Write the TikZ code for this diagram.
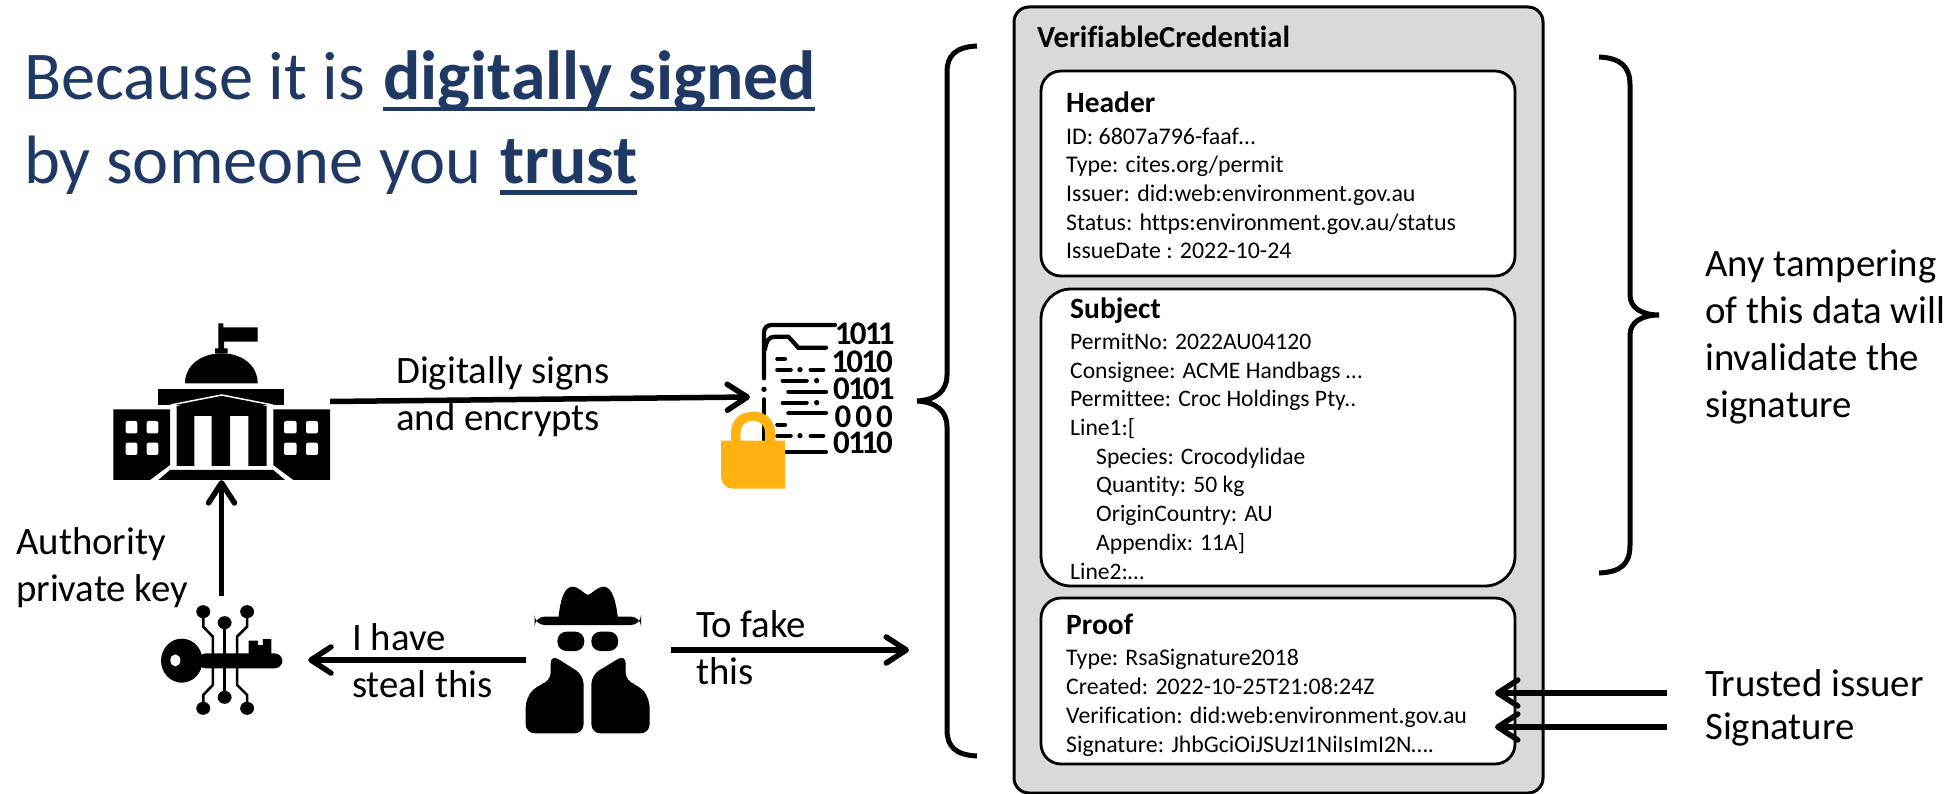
\documentclass[tikz,border=0pt]{standalone}
\usepackage{fontspec}
\setmainfont{Carlito}[Ligatures=CommonOff]
\usetikzlibrary{arrows.meta}
\definecolor{titleblue}{HTML}{1F3864}
\definecolor{cardgrey}{HTML}{D9D9D9}
\definecolor{lockgold}{HTML}{FFB210}
\newcommand{\tightone}{\kern-1.8pt 1\kern-1.8pt}
\tikzset{
  lab/.style={anchor=base west,inner sep=0pt,align=left,font=\fontsize{38.8}{47}\selectfont},
  titletext/.style={anchor=base west,inner sep=0pt,text=titleblue,font=\fontsize{68.4}{84}\selectfont},
  titlebold/.style={titletext,font=\fontsize{69.6}{84}\selectfont\bfseries},
  boxhead/.style={anchor=base west,inner sep=0pt,font=\fontsize{29.5}{34}\selectfont\bfseries},
  boxbody/.style={anchor=base west,inner sep=0pt,align=left,font=\fontsize{23.6}{28.7}\selectfont},
  headbody/.style={boxbody,font=\fontsize{23.9}{28.7}\selectfont},
  proofbody/.style={boxbody,font=\fontsize{23.8}{28.7}\selectfont},
  card/.style={draw=black,line width=2.8pt,fill=white},
  bigarrow/.style={line width=5.5pt,-{Straight Barb[length=20pt,width=26pt,round]}},
  bracepath/.style={line width=5pt,line cap=butt},
  docline/.style={line width=4.2pt,line cap=round},
  iconbox/.style={inner sep=0pt,minimum width=#1},
  bits/.style={anchor=base east,inner sep=0pt,font=\fontsize{33}{32}\selectfont\bfseries}
}
\begin{document}
\begin{tikzpicture}[x=1pt,y=-1pt]
\useasboundingbox (0,0) rectangle (1959,794);

% title
\node[titletext] (t1) at (24,100) {Because it is};
\node[titlebold] (t2) at (383,100) {digitally signed};
\node[titletext] (t3) at (24,184) {by someone you};
\node[titlebold] (t4) at (500,184) {trust};
\fill[titleblue] (383,107) rectangle (815,111.5);
\fill[titleblue] (500,190) rectangle (637,195);

% credential card
\draw[draw=black,line width=3pt,fill=cardgrey,rounded corners=15pt] (1014,7) rectangle (1543,793);
\node[boxhead,font=\fontsize{30.6}{34}\selectfont\bfseries] (vc) at (1037,48) {VerifiableCredential};

\draw[card,rounded corners=20pt] (1041,71) rectangle (1515,276);
\node[boxhead] (hh) at (1066,113) {Header};
\node[headbody] (hb) at (1066,259) {ID: 6807a796-faaf…\\Type: cites.org/permit\\Issuer: did:web:environment.gov.au\\Status: https:environment.gov.au/status\\IssueDate : 2022-10-24};

\draw[card,rounded corners=30pt] (1041,289) rectangle (1515,586);
\node[boxhead] (sh) at (1070,319) {Subject};
\node[boxbody] (sb) at (1070,579) {PermitNo: 2022AU04120\\Consignee: ACME Handbags …\\Permittee: Croc Holdings Pty..\\Line1:[\\\hspace*{26pt}Species: Crocodylidae\\\hspace*{26pt}Quantity: 50 kg\\\hspace*{26pt}OriginCountry: AU\\\hspace*{26pt}Appendix: 11A]\\Line2:…};

\draw[card,rounded corners=20pt] (1041,598) rectangle (1515,764);
\node[boxhead] (ph) at (1066,634) {Proof};
\node[proofbody] (pb) at (1066,752) {Type: RsaSignature2018\\Created: 2022-10-25T21:08:24Z\\Verification: did:web:environment.gov.au\\Signature: JhbGciOiJSUzI1NiIsImI2N….};

% braces
\draw[bracepath] (977,46) .. controls (955,47) and (947,56) .. (947,72) -- (947,375) .. controls (947,392) and (935,400) .. (917,401) .. controls (935,402) and (947,410) .. (947,427) -- (947,730) .. controls (947,746) and (955,755) .. (977,756);
\draw[bracepath] (1599,57) .. controls (1620,58) and (1630,66) .. (1630,85) -- (1630,295) .. controls (1630,308) and (1642,315) .. (1659,315) .. controls (1642,315) and (1630,322) .. (1630,335) -- (1630,545) .. controls (1630,565) and (1620,572) .. (1599,573);

% right labels
\node[lab] (tamper) at (1705,417) {Any tampering\\of this data will\\invalidate the\\signature};
\node[lab,font=\fontsize{38.8}{42.5}\selectfont] (trusted) at (1705,739) {Trusted issuer\\Signature};

% building icon
\node[iconbox=217pt,minimum height=157pt] (building) at (221.5,401.5) {};
\begin{scope}[shift={(80,290)},x=1/3*1pt,y=-1/3*1pt]
  \fill (100,358) -- (270,358) -- (270,525) -- (210,570) -- (100,570) -- cycle;
  \fill (750,358) -- (580,358) -- (580,525) -- (640,570) -- (750,570) -- cycle;
  \fill (235,297) rectangle (612,345);
  \fill (235,570) -- (270,540) -- (580,540) -- (615,570) -- cycle;
  \fill (315,280) .. controls (315,225) and (365,190) .. (425,190) .. controls (485,190) and (533,225) .. (533,280) -- cycle;
  \fill (405,190) -- (405,175) -- (415,175) -- (415,100) -- (430,100) -- (430,112) -- (533,112) -- (533,155) -- (432,155) -- (432,175) -- (443,175) -- (443,190) -- cycle;
  \fill (290,348) -- (425,322) -- (560,348) -- (560,528) -- (505,528) -- (505,378) -- (450,378) -- (450,528) -- (395,528) -- (395,378) -- (343,378) -- (343,528) -- (290,528) -- cycle;
  \draw[white,line width=1.5pt] (272,345) -- (425,315) -- (578,345);
  \fill[white,rounded corners=2pt] (137,393) rectangle (172,430) (200,393) rectangle (235,430) (137,458) rectangle (172,495) (200,458) rectangle (235,495);
  \fill[white,rounded corners=2pt] (612,393) rectangle (650,430) (678,393) rectangle (714,430) (612,458) rectangle (650,495) (678,458) rectangle (714,495);
\end{scope}

% document icon
\coordinate (docin) at (750,397);
\begin{scope}[shift={(700,300)},x=1/3*1pt,y=-1/3*1pt]
  \draw[docline] (405,75) -- (215,75) .. controls (200,75) and (192,85) .. (192,98) -- (192,235);
  \fill (192,268) circle[radius=8];
  \draw[docline] (192,298) -- (192,420);
  \draw[docline] (195,148) .. controls (198,125) and (205,110) .. (225,110) -- (265,110) -- (295,143) -- (378,143);
  \foreach \a/\b/\c in {232/255/177,232/272/209,332/370/209,248/320/242,265/378/275,248/320/308,265/378/340,232/255/374,232/272/407,332/370/407,255/378/455}
    \draw[docline] (\a,\c) -- (\b,\c);
  \foreach \a/\c in {300/209,350/242,350/308,300/407}
    \fill (\a,\c) circle[radius=8];
\end{scope}
\node[bits] (b1) at (893,344) {\tightone0\tightone\tightone};
\node[bits] (b2) at (893,372) {\tightone0\tightone0};
\node[bits] (b3) at (893,399) {0\tightone0\tightone};
\node[bits] (b4) at (893,427) {0\kern4pt0\kern4pt0};
\node[bits] (b5) at (893,453) {0\tightone\tightone0};
% lock
\begin{scope}[shift={(700,300)},x=1/3*1pt,y=-1/3*1pt]
  \fill[lockgold,even odd rule] (93,425) -- (93,400) .. controls (93,360) and (120,335) .. (159,335) .. controls (198,335) and (225,360) .. (225,400) -- (225,425) -- (195,425) -- (195,398) .. controls (195,375) and (180,362) .. (159,362) .. controls (138,362) and (122,375) .. (122,398) -- (122,425) -- cycle;
  \fill[lockgold] (63,422) -- (255,422) -- (255,566) -- (100,566) .. controls (78,566) and (63,550) .. (63,530) -- cycle;
\end{scope}

% key icon
\node[iconbox=121pt,minimum height=111pt] (key) at (221.5,660) {};
\begin{scope}[shift={(130,570)},x=1/2.8*1pt,y=-1/3*1pt]
  \draw[line width=2.6pt] (265,158) -- (265,382);
  \draw[line width=2.6pt] (205,125) -- (205,170) -- (232,200) -- (232,345) -- (205,375) -- (205,415);
  \draw[line width=2.6pt] (328,125) -- (328,170) -- (300,200) -- (300,345) -- (328,375) -- (328,415);
  \foreach \a/\c in {205/125,265/158,328/125,205/415,265/382,328/415}
    \fill (\a,\c) ellipse[x radius=19.5,y radius=19.5];
  \fill (145,272) ellipse[x radius=58,y radius=66];
  \fill[rounded corners=8pt] (190,250) rectangle (427,295);
  \fill (332,252) -- (332,212) -- (358,212) -- (358,225) -- (372,225) -- (372,207) -- (396,207) -- (396,252) -- cycle;
  \fill[white] (127,271) ellipse[x radius=14,y radius=18];
\end{scope}

% spy icon
\node[iconbox=124pt,minimum height=146pt] (spy) at (588,660) {};
\begin{scope}[shift={(130,570)},x=1/2.8*1pt,y=-1/3*1pt]
  \fill (1200,142) .. controls (1205,90) and (1215,50) .. (1240,50) .. controls (1255,50) and (1270,70) .. (1282,75) .. controls (1295,70) and (1310,50) .. (1325,50) .. controls (1350,50) and (1360,90) .. (1366,142) -- cycle;
  \fill[rounded corners=10pt] (1133,140) rectangle (1431,165);
  \fill[rounded corners=9pt] (1197,185) rectangle (1272,243);
  \fill[rounded corners=9pt] (1292,185) rectangle (1367,243);
  \fill[rounded corners=9pt] (1178,253) -- (1270,315) -- (1270,490) -- (1108,490) -- (1108,385) -- (1140,345) -- (1178,335) -- cycle;
  \fill[rounded corners=9pt] (1388,253) -- (1292,315) -- (1292,490) -- (1455,490) -- (1455,385) -- (1425,345) -- (1388,335) -- cycle;
\end{scope}

% connectors
\coordinate (fakefrom) at (671,650);
\coordinate (faketo) at (909,650);
\coordinate (trust1from) at (1667,693);
\coordinate (trust1to) at (1495,693);
\coordinate (trust2from) at (1667,727);
\coordinate (trust2to) at (1495,727);
\draw[bigarrow] (building.east) -- (docin);
\draw[bigarrow] ([yshift=8pt]key.north) -- (building.south);
\draw[bigarrow] (spy.west) -- ([xshift=26pt]key.east);
\draw[bigarrow] (fakefrom) -- (faketo);
\draw[bigarrow] (trust1from) -- (trust1to);
\draw[bigarrow] (trust2from) -- (trust2to);

% labels
\node[lab] (signs) at (396,430) {Digitally signs\\and encrypts};
\node[lab] (auth) at (16,601) {Authority\\private key};
\node[lab] (steal) at (352,697) {I have\\steal this};
\node[lab] (fake) at (696,684) {To fake\\this};
\end{tikzpicture}
\end{document}
